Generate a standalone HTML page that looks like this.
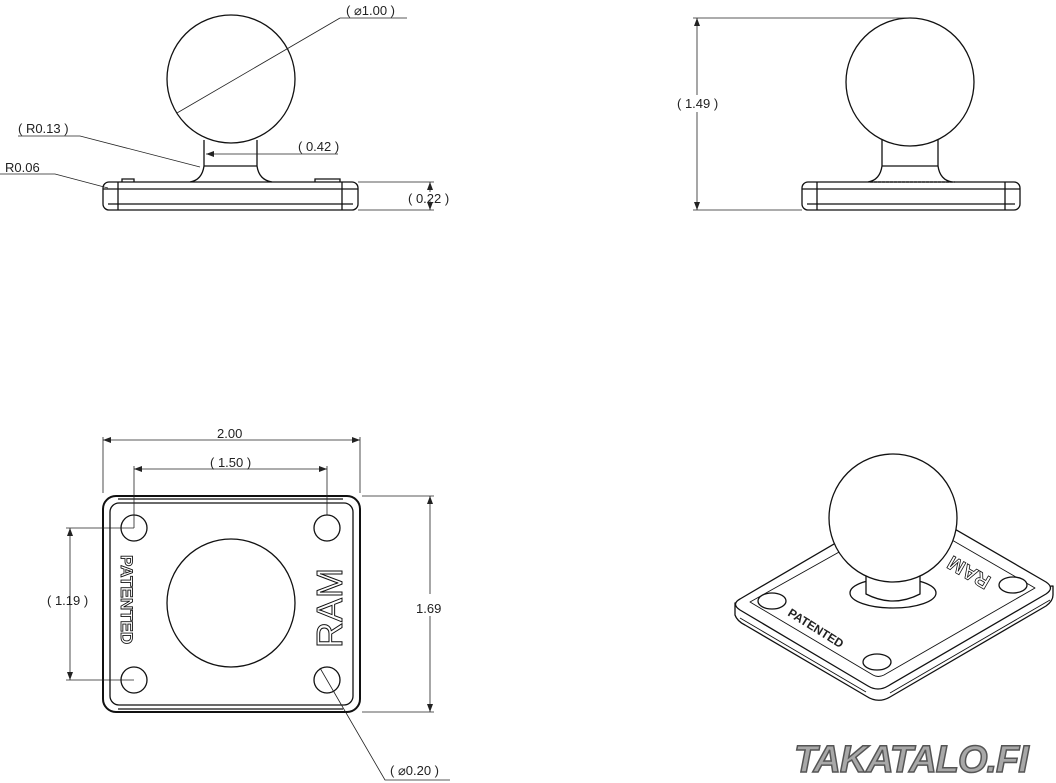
<!DOCTYPE html>
<html><head><meta charset="utf-8"><style>
html,body{margin:0;padding:0;background:#fff;width:1056px;height:783px;overflow:hidden}
svg{display:block}
text{font-family:"Liberation Sans",sans-serif;fill:#222}
</style></head><body>
<svg width="1056" height="783" viewBox="0 0 1056 783" xmlns="http://www.w3.org/2000/svg">
<defs>
<marker id="a" markerWidth="8" markerHeight="6" refX="8" refY="3" orient="auto-start-reverse" markerUnits="userSpaceOnUse"><path d="M0,0 L8,3 L0,6z" fill="#222"/></marker>
</defs>
<g fill="none" stroke="#111" stroke-width="1.3">
<circle cx="231" cy="79" r="64"/>
<path d="M204,140 L204,166 Q202,180 190,182 M257,140 L257,166 Q259,180 272,182"/>
<line x1="204" y1="166" x2="257" y2="166"/>
<rect x="103" y="182" width="255" height="28" rx="6"/>
<line x1="118" y1="182" x2="118" y2="210"/><line x1="342" y1="182" x2="342" y2="210"/>
<line x1="103" y1="189" x2="358" y2="189"/><line x1="108" y1="204" x2="353" y2="204"/>
<path d="M122,182 L122,179 L134,179 L134,182 M315,182 L315,179 L340,179 L340,182"/>
</g>
<g fill="none" stroke="#222" stroke-width="0.8">
<line x1="177" y1="113" x2="340" y2="18"/><line x1="340" y1="18" x2="407" y2="18"/>
<line x1="206" y1="154" x2="338" y2="154" marker-start="url(#a)"/>
<path d="M18,136 L80,136 L200,167"/>
<path d="M0,174 L55,174 L108,188"/>
<line x1="358" y1="182" x2="434" y2="182"/><line x1="358" y1="210" x2="434" y2="210"/>
<line x1="430" y1="192" x2="430" y2="182" marker-end="url(#a)"/>
<line x1="430" y1="200" x2="430" y2="210" marker-end="url(#a)"/>
</g>
<text x="346" y="15" font-size="13">( ⌀1.00 )</text>
<text x="298" y="151" font-size="13">( 0.42 )</text>
<text x="18" y="133" font-size="13">( R0.13 )</text>
<text x="5" y="172" font-size="13">R0.06</text>
<text x="408" y="203" font-size="13">( 0.22 )</text>

<g fill="none" stroke="#111" stroke-width="1.3">
<circle cx="910" cy="82" r="64"/>
<path d="M882,140 L882,166 Q880,180 868,182 M938,140 L938,166 Q940,180 952,182"/>
<line x1="882" y1="166" x2="938" y2="166"/>
<rect x="802" y="182" width="218" height="28" rx="6"/>
<line x1="817" y1="182" x2="817" y2="210"/><line x1="1005" y1="182" x2="1005" y2="210"/>
<line x1="802" y1="189" x2="1020" y2="189"/><line x1="807" y1="204" x2="1015" y2="204"/>
<line x1="870" y1="182" x2="955" y2="182" stroke-dasharray="3,1"/>
</g>
<g fill="none" stroke="#222" stroke-width="0.8">
<line x1="693" y1="18" x2="910" y2="18"/><line x1="693" y1="210" x2="802" y2="210"/>
<line x1="697" y1="95" x2="697" y2="18" marker-end="url(#a)"/>
<line x1="697" y1="112" x2="697" y2="210" marker-end="url(#a)"/>
</g>
<text x="677" y="108" font-size="13">( 1.49 )</text>

<g fill="none" stroke="#111" stroke-width="1.3">
<rect x="103" y="496" width="257" height="216" rx="13" stroke-width="2"/>
<rect x="110" y="503" width="243" height="202" rx="9"/>
<line x1="118" y1="499" x2="343" y2="499"/><line x1="118" y1="709" x2="343" y2="709"/>
<circle cx="134" cy="528" r="13"/><circle cx="327" cy="528" r="13"/>
<circle cx="134" cy="680" r="13"/><circle cx="327" cy="680" r="13"/>
<circle cx="231" cy="603" r="64"/>
</g>
<text transform="translate(121,555) rotate(90)" font-size="17" font-weight="bold" fill="#fff" stroke="#111" stroke-width="0.9" style="fill:#fff">PATENTED</text>
<text transform="translate(342,648) rotate(-90)" font-size="36" fill="#fff" stroke="#111" stroke-width="1" style="fill:#fff">RAM</text>
<g fill="none" stroke="#222" stroke-width="0.8">
<line x1="103" y1="437" x2="103" y2="493"/><line x1="360" y1="437" x2="360" y2="493"/>
<line x1="103" y1="440" x2="360" y2="440" marker-start="url(#a)" marker-end="url(#a)"/>
<line x1="134" y1="466" x2="134" y2="528"/><line x1="327" y1="466" x2="327" y2="515"/>
<line x1="134" y1="469" x2="327" y2="469" marker-start="url(#a)" marker-end="url(#a)"/>
<line x1="66" y1="528" x2="134" y2="528"/><line x1="66" y1="680" x2="134" y2="680"/>
<line x1="70" y1="528" x2="70" y2="680" marker-start="url(#a)" marker-end="url(#a)"/>
<line x1="362" y1="496" x2="434" y2="496"/><line x1="362" y1="712" x2="434" y2="712"/>
<line x1="430" y1="594" x2="430" y2="496" marker-end="url(#a)"/>
<line x1="430" y1="616" x2="430" y2="712" marker-end="url(#a)"/>
<path d="M320,668 L385,780 L450,780"/>
</g>
<text x="217" y="438" font-size="13">2.00</text>
<text x="210" y="467" font-size="13">( 1.50 )</text>
<text x="47" y="605" font-size="13">( 1.19 )</text>
<text x="416" y="613" font-size="13">1.69</text>
<text x="390" y="775" font-size="13">( ⌀0.20 )</text>

<!-- Iso view -->
<g fill="#fff" stroke="#111" stroke-width="1.3" stroke-linejoin="round">
<path d="M735,603 L735,615 Q737,621 745,625 L866,696 Q878,704 890,697 L1046,606 Q1053,601 1053,595 L1053,586 Z"/>
<path d="M740,599 Q731,604 740,610 L868,686 Q878,692 888,686 L1046,594 Q1055,588 1046,582 L915,506 Q907,501 899,506 Z"/>
<path d="M750,602 L873,675 Q878,678 884,675 L1035,588 L907,514 Z" fill="none" stroke-width="0.9"/>
<line x1="740" y1="618" x2="866" y2="692" stroke-width="0.9"/>
<line x1="890" y1="693" x2="1050" y2="600" stroke-width="0.9"/>
<ellipse cx="772" cy="601" rx="14" ry="8"/><ellipse cx="877" cy="662" rx="14" ry="8"/>
<ellipse cx="1013" cy="585" rx="14" ry="8"/>
<ellipse cx="893" cy="593" rx="43" ry="15"/>
<path d="M866,572 L866,594 Q893,608 920,594 L920,572 Z"/>
<circle cx="893" cy="518" r="64"/>
</g>
<text transform="translate(787,615) rotate(32)" font-size="12" font-weight="bold" fill="#111">PATENTED</text>
<text transform="translate(992,578) rotate(-150)" font-size="20" font-weight="bold" fill="#fff" stroke="#111" stroke-width="0.8" style="fill:#fff">RAM</text>

<text x="794" y="772" font-size="38" font-weight="bold" font-style="italic" fill="#a8a8a8" stroke="#555" stroke-width="1.5" style="fill:#a8a8a8" letter-spacing="-1">TAKATALO.FI</text>
</svg>
</body></html>
